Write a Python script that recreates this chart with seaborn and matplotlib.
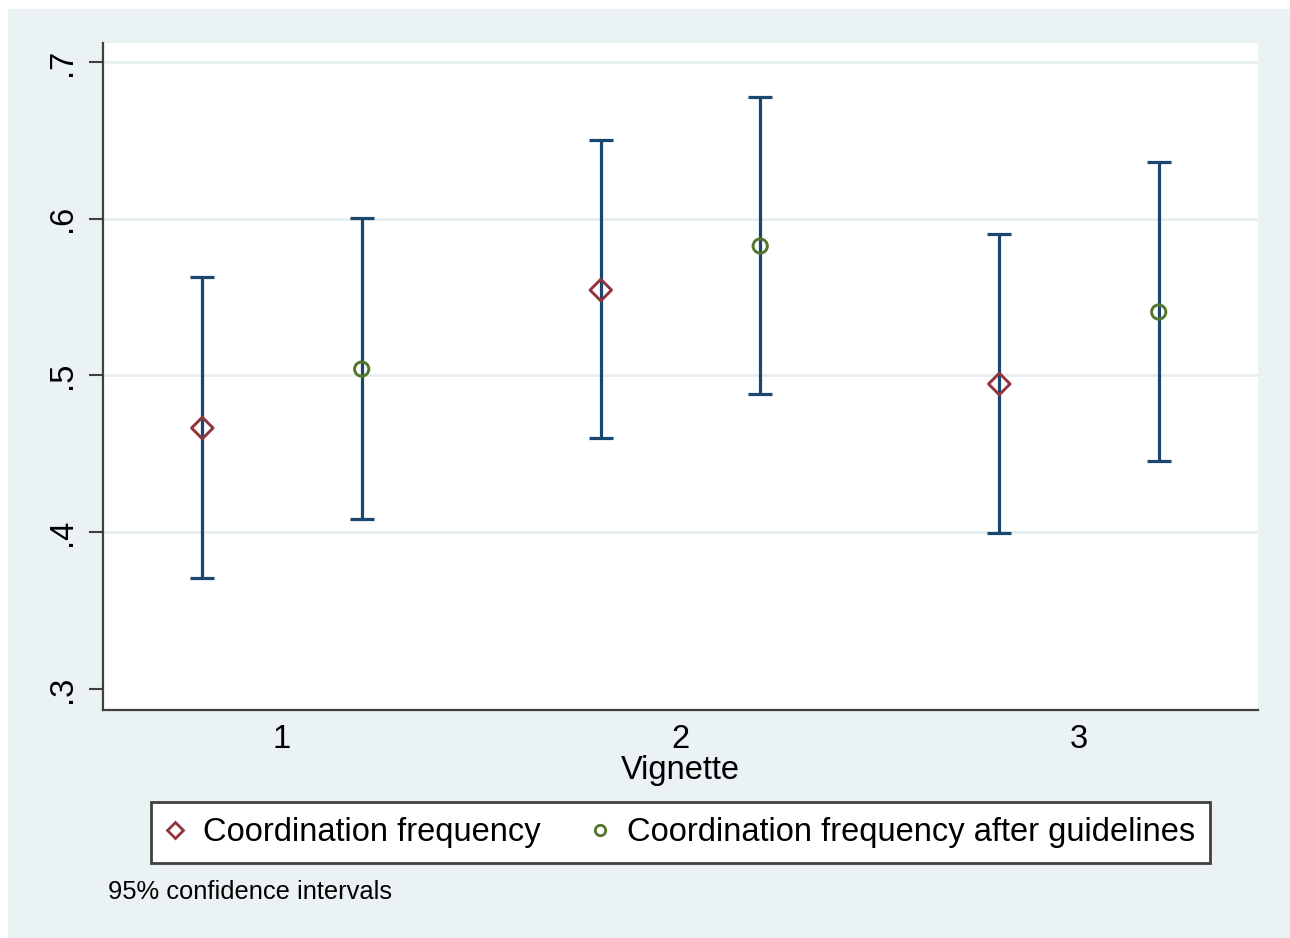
import matplotlib
matplotlib.use("Agg")
import matplotlib.pyplot as plt
from matplotlib.patches import Rectangle
from matplotlib.lines import Line2D
import seaborn as sns
import pandas as pd
import numpy as np

# ---- data ----
vignettes = [1, 2, 3]
coord_mean = [0.4665, 0.5545, 0.4946]
coord_lo = [0.3708, 0.4601, 0.3995]
coord_hi = [0.5628, 0.6502, 0.5903]
guide_mean = [0.5041, 0.5826, 0.5405]
guide_lo = [0.4085, 0.4882, 0.4455]
guide_hi = [0.6005, 0.6777, 0.6362]
series_names = ["Coordination frequency", "Coordination frequency after guidelines"]
yticks = [0.3, 0.4, 0.5, 0.6, 0.7]
ytick_labels = [".3", ".4", ".5", ".6", ".7"]
xlabel = "Vignette"
note = "95% confidence intervals"

sns.set_theme(style="white")
plt.rcParams['font.family'] = ['Liberation Sans', 'DejaVu Sans']
plt.rcParams['text.color'] = 'black'
plt.rcParams['xtick.color'] = 'black'
plt.rcParams['ytick.color'] = 'black'
plt.rcParams['axes.labelcolor'] = 'black'

BG = "#eaf2f3"
NAVY = "#1a476f"
MAROON = "#90353b"
GREEN = "#55752f"
DARK = "#404040"

fig = plt.figure(figsize=(12.9, 9.38), dpi=100, facecolor="white")
fig.patches.append(Rectangle((8/1290, 0), 1 - 8/1290, 1 - 9/938, transform=fig.transFigure,
                             facecolor=BG, edgecolor="none", zorder=-10))

ax = fig.add_axes([103/1290, 1 - 710/938, 1155/1290, 667/938])
ax.set_facecolor("white")

offset = 0.2
rows = []
for v, m, lo, hi in zip(vignettes, coord_mean, coord_lo, coord_hi):
    rows.append(dict(x=v - offset, mean=m, lo=lo, hi=hi, series=series_names[0]))
for v, m, lo, hi in zip(vignettes, guide_mean, guide_lo, guide_hi):
    rows.append(dict(x=v + offset, mean=m, lo=lo, hi=hi, series=series_names[1]))
df = pd.DataFrame(rows)

# grid lines
for yv in yticks[1:]:
    ax.axhline(yv, color="#e6eef0", lw=2, zorder=0)

# CIs
ax.errorbar(df["x"], df["mean"],
            yerr=[df["mean"] - df["lo"], df["hi"] - df["mean"]],
            fmt="none", ecolor=NAVY, elinewidth=2.3, capsize=8.5, capthick=2.3, zorder=2)

# markers
sub1 = df[df.series == series_names[0]]
sub2 = df[df.series == series_names[1]]
sns.scatterplot(data=sub1, x="x", y="mean", ax=ax, marker="D", s=120, facecolor="none",
                edgecolor=MAROON, linewidth=2.1, zorder=3, legend=False)
sns.scatterplot(data=sub2, x="x", y="mean", ax=ax, marker="o", s=105, facecolor="none",
                edgecolor=GREEN, linewidth=2.1, zorder=3, legend=False)

ax.set_xlim(1 - 179/398.5, 3 + 179/398.5)
ax.set_ylim(0.3 - 21/1567.5, 0.7 + 19/1567.5)
ax.set_xticks(vignettes)
ax.set_xticklabels([str(v) for v in vignettes], fontsize=23.5)
ax.set_yticks(yticks)
ax.set_yticklabels(ytick_labels, fontsize=23.5, rotation=90, va="center")
ax.tick_params(axis="y", length=10, width=1.5, color=DARK, pad=8, direction="out", left=True)
ax.tick_params(axis="x", length=0, pad=10)
ax.set_xlabel(xlabel, fontsize=23.5, labelpad=0)
ax.set_ylabel("")

for s in ["top", "right"]:
    ax.spines[s].set_visible(False)
for s in ["left", "bottom"]:
    ax.spines[s].set_color(DARK)
    ax.spines[s].set_linewidth(1.6)

handles = [
    Line2D([], [], marker="D", linestyle="none", markersize=8, markerfacecolor="none",
           markeredgecolor=MAROON, markeredgewidth=2.0),
    Line2D([], [], marker="o", linestyle="none", markersize=7.5, markerfacecolor="none",
           markeredgecolor=GREEN, markeredgewidth=2.0),
]
leg = fig.legend(handles, series_names, loc="center", bbox_to_anchor=(680.5/1290, 1 - 832.5/938),
                 ncol=2, fontsize=23.5, frameon=True, fancybox=False, handlelength=0.6,
                 handletextpad=0.55, columnspacing=1.5, borderpad=0.45)
leg.get_frame().set_edgecolor(DARK)
leg.get_frame().set_linewidth(2.0)
leg.get_frame().set_facecolor("white")
leg.get_frame().set_alpha(1)

fig.text(108/1290, 1 - 892/938, note, fontsize=18.4, va="center", ha="left")

fig.savefig("out.png", dpi=100, facecolor=fig.get_facecolor())
